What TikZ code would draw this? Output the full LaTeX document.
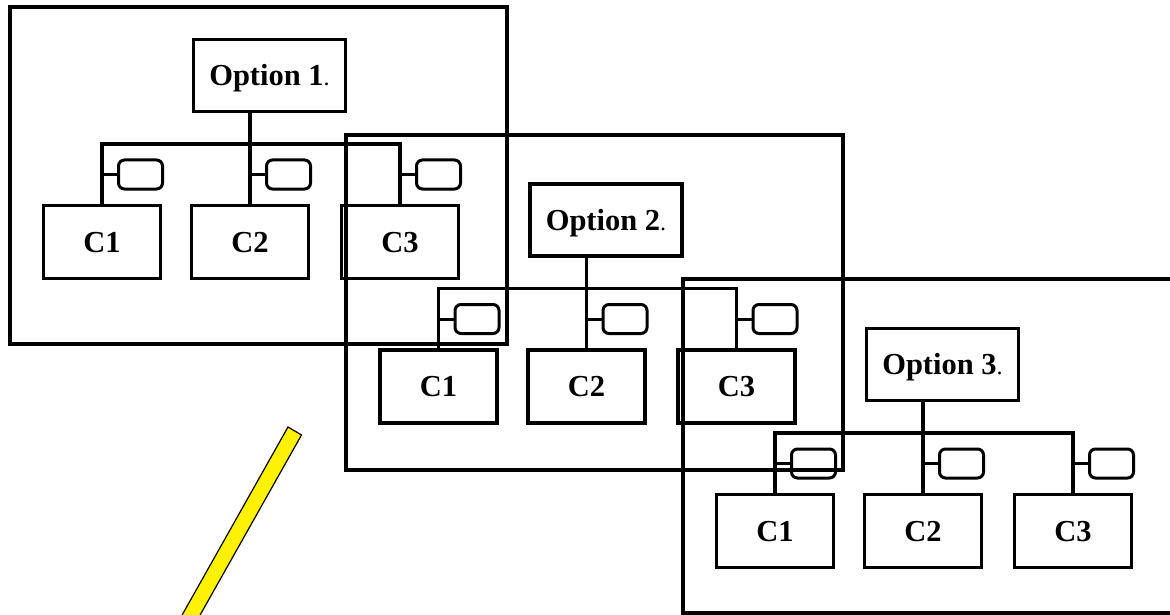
\documentclass[tikz,border=0pt]{standalone}
\usepackage{fontspec}
\setmainfont{Liberation Serif}
\begin{document}
\begin{tikzpicture}[x=1pt,y=-1pt,
  optbox/.style={draw,line width=3.5pt,minimum width=152pt,minimum height=72pt,inner sep=0pt,text height=20pt,text depth=0pt,font=\fontsize{30.5}{30.5}\selectfont\bfseries},
  cbox/.style={draw,line width=3.5pt,minimum width=117pt,minimum height=73pt,inner sep=0pt,text height=20pt,text depth=0pt,font=\fontsize{30.5}{30.5}\selectfont\bfseries},
  tagbox/.style={draw,line width=3pt,rounded corners=6pt,minimum width=44pt,minimum height=29pt,inner sep=0pt,anchor=west},
  wire/.style={line width=3.5pt},
  tick/.style={line width=3pt},
  frame/.style={line width=3.5pt}]
\useasboundingbox (0,0) rectangle (1170,615);
% the three option frames
\draw[frame] (10,7) rectangle (507,344);
\draw[frame] (346,135) rectangle (843,470);
\draw[frame] (683,279) rectangle (1180,613);
% one option tree per frame
\foreach \g/\dx/\dy in {1/0/0, 2/336.5/144.5, 3/673/289}{
\begin{scope}[shift={(\dx,\dy)}]
\node[optbox] (opt\g) at (269.5,75.5) {Option \g{\mdseries\fontsize{24}{24}\selectfont.}};
\node[cbox] (c\g1) at (102,242) {C1};
\node[cbox] (c\g2) at (250,242) {C2};
\node[cbox] (c\g3) at (400,242) {C3};
\coordinate (bus\g) at (250,144);
\draw[wire] (opt\g.south -| c\g2.north) -- (c\g2.north);
\draw[wire] (c\g1.north) -- (c\g1.north |- bus\g) -- (c\g3.north |- bus\g) -- (c\g3.north);
\node[tagbox] (t\g1) at (117,174.5) {};
\node[tagbox] (t\g2) at (265,174.5) {};
\node[tagbox] (t\g3) at (415,174.5) {};
\draw[tick] (t\g1.west) -- (t\g1.west -| c\g1.north);
\draw[tick] (t\g2.west) -- (t\g2.west -| c\g2.north);
\draw[tick] (t\g3.west) -- (t\g3.west -| c\g3.north);
\end{scope}
}
% yellow bar
\draw[fill=yellow,line width=1.2pt] (288,427) -- (301.5,435) -- (178.8,652.8) -- (165.3,644.8) -- cycle;
\end{tikzpicture}
\end{document}
